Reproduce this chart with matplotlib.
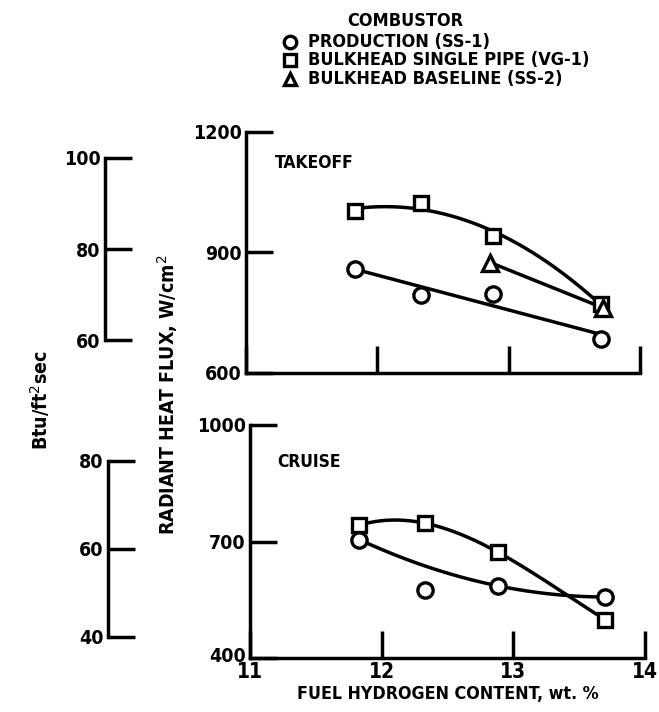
import numpy as np
import matplotlib
matplotlib.use("Agg")
import matplotlib.pyplot as plt
import matplotlib.transforms as mtransforms
from matplotlib.lines import Line2D

plt.rcParams['font.family'] = ['DejaVu Sans']
FONT = dict(fontweight='bold', fontstretch='condensed', color='black')

# ---------------- data ----------------
x_hyd = [11.83, 12.33, 12.88, 13.70]          # fuel hydrogen content, wt %
takeoff_production = [860, 795, 797, 685]     # W/cm2 (circles)
takeoff_single_pipe = [1003, 1024, 940, 773]  # squares
baseline_x = [12.86, 13.72]
takeoff_baseline = [875, 762]                 # triangles
cruise_production = [705, 575, 586, 557]
cruise_single_pipe = [742, 747, 673, 498]

conv = 11.357  # W/cm2 (as plotted) per Btu/ft2-sec
legend_labels = ["PRODUCTION (SS-1)", "BULKHEAD SINGLE PIPE (VG-1)", "BULKHEAD BASELINE (SS-2)"]
xticks = [11, 12, 13, 14]

W, H = 659, 712
fig = plt.figure(figsize=(W / 100, H / 100), dpi=100)


def frac(x0, x1, ytop, ybot):
    return [x0 / W, 1 - ybot / H, (x1 - x0) / W, (ybot - ytop) / H]


LW = 2.5
TL = 19.5
ms = 11
mew = 2.4


def style_main(ax, ylim, yticks, show_x):
    ax.set_xlim(11, 14)
    ax.set_ylim(*ylim)
    for s in ['top', 'right']:
        ax.spines[s].set_visible(False)
    for s in ['left', 'bottom']:
        ax.spines[s].set_linewidth(LW)
    ax.set_xticks(xticks)
    ax.set_yticks(yticks)
    ax.tick_params(direction='in', length=TL, width=LW, pad=3)
    ax.set_yticklabels([str(v) for v in yticks], fontsize=14, **FONT)
    if show_x:
        ax.set_xticklabels([str(v) for v in xticks], fontsize=15, **FONT)
    else:
        ax.set_xticklabels([])
    ax.patch.set_alpha(0)


def fitline(ax, xs, ys, deg):
    p = np.polyfit(xs, ys, deg)
    xx = np.linspace(min(xs), max(xs), 200)
    ax.plot(xx, np.polyval(p, xx), color='black', lw=LW, zorder=2)


def marks(ax, xs, ys, m, size=ms):
    ax.plot(xs, ys, ls='none', marker=m, ms=size, mfc='white', mec='black',
            mew=mew, zorder=3, clip_on=False)


# -------- top panel: takeoff --------
ax1 = fig.add_axes(frac(246, 640, 132, 373))
style_main(ax1, (600, 1200), [600, 900, 1200], False)
fitline(ax1, x_hyd, takeoff_single_pipe, 2)
fitline(ax1, x_hyd, takeoff_production, 1)
ax1.plot(baseline_x, takeoff_baseline, color='black', lw=LW, zorder=2)
marks(ax1, x_hyd, takeoff_single_pipe, 's', 10.5)
marks(ax1, x_hyd, takeoff_production, 'o')
marks(ax1, baseline_x, takeoff_baseline, '^')
ax1.text(0.074, 0.871, "TAKEOFF", transform=ax1.transAxes, va='center',
         fontsize=12.5, **FONT)

# -------- bottom panel: cruise --------
ax2 = fig.add_axes(frac(250, 645, 425, 658))
style_main(ax2, (400, 1000), [400, 700, 1000], True)
fitline(ax2, x_hyd, cruise_single_pipe, 3)
sel = [0, 2, 3]
fitline(ax2, [x_hyd[i] for i in sel], [cruise_production[i] for i in sel], 2)
marks(ax2, x_hyd, cruise_single_pipe, 's', 10.5)
marks(ax2, x_hyd, cruise_production, 'o')
ax2.text(0.068, 0.841, "CRUISE", transform=ax2.transAxes, va='center',
         fontsize=12.5, **FONT)
ax2.set_xlabel("FUEL HYDROGEN CONTENT, wt. %", fontsize=12.8, labelpad=2, **FONT)
# nudge the lowest y label up a little, as in the original
lab400 = ax2.get_yticklabels()[0]
lab400.set_transform(lab400.get_transform() +
                     mtransforms.ScaledTranslation(0, 3 / 100, fig.dpi_scale_trans))


# -------- secondary Btu scales --------
def btu_axis(xpix, ytop, ybot, ylim, ticks):
    a = fig.add_axes(frac(xpix, xpix + 40, ytop, ybot))
    a.set_ylim(ylim[0] / conv, ylim[1] / conv)
    a.set_xlim(0, 1)
    for s in ['top', 'right', 'bottom']:
        a.spines[s].set_visible(False)
    a.spines['left'].set_linewidth(LW)
    a.spines['left'].set_bounds(ticks[0], ticks[-1])
    a.set_xticks([])
    a.set_yticks(ticks)
    a.tick_params(axis='y', direction='in', length=TL, width=LW, pad=3)
    a.set_yticklabels([str(v) for v in ticks], fontsize=14, **FONT)
    a.patch.set_alpha(0)
    return a


btu_axis(105, 132, 373, (600, 1200), [60, 80, 100])
btu_axis(108, 425, 658, (400, 1000), [40, 60, 80])

fig.text(168 / W, 1 - 395 / H, "RADIANT HEAT FLUX, W/cm$^2$", rotation=90,
         ha='center', va='center', fontsize=14, **FONT)
fig.text(40 / W, 1 - 400 / H, "Btu/ft$^2$sec", rotation=90,
         ha='center', va='center', fontsize=14, **FONT)

# -------- legend --------
fig.text(405 / W, 1 - 21 / H, "COMBUSTOR", ha='center', va='center', fontsize=13, **FONT)
rows_y = [42, 60, 79]
for lab, m, yy in zip(legend_labels, ['o', 's', '^'], rows_y):
    fig.add_artist(Line2D([290 / W], [1 - yy / H], ls='none', marker=m, ms=9,
                          mfc='white', mec='black', mew=2.4, transform=fig.transFigure))
    fig.text(308 / W, 1 - yy / H, lab, ha='left', va='center', fontsize=13, **FONT)

fig.savefig("out.png", dpi=100)
